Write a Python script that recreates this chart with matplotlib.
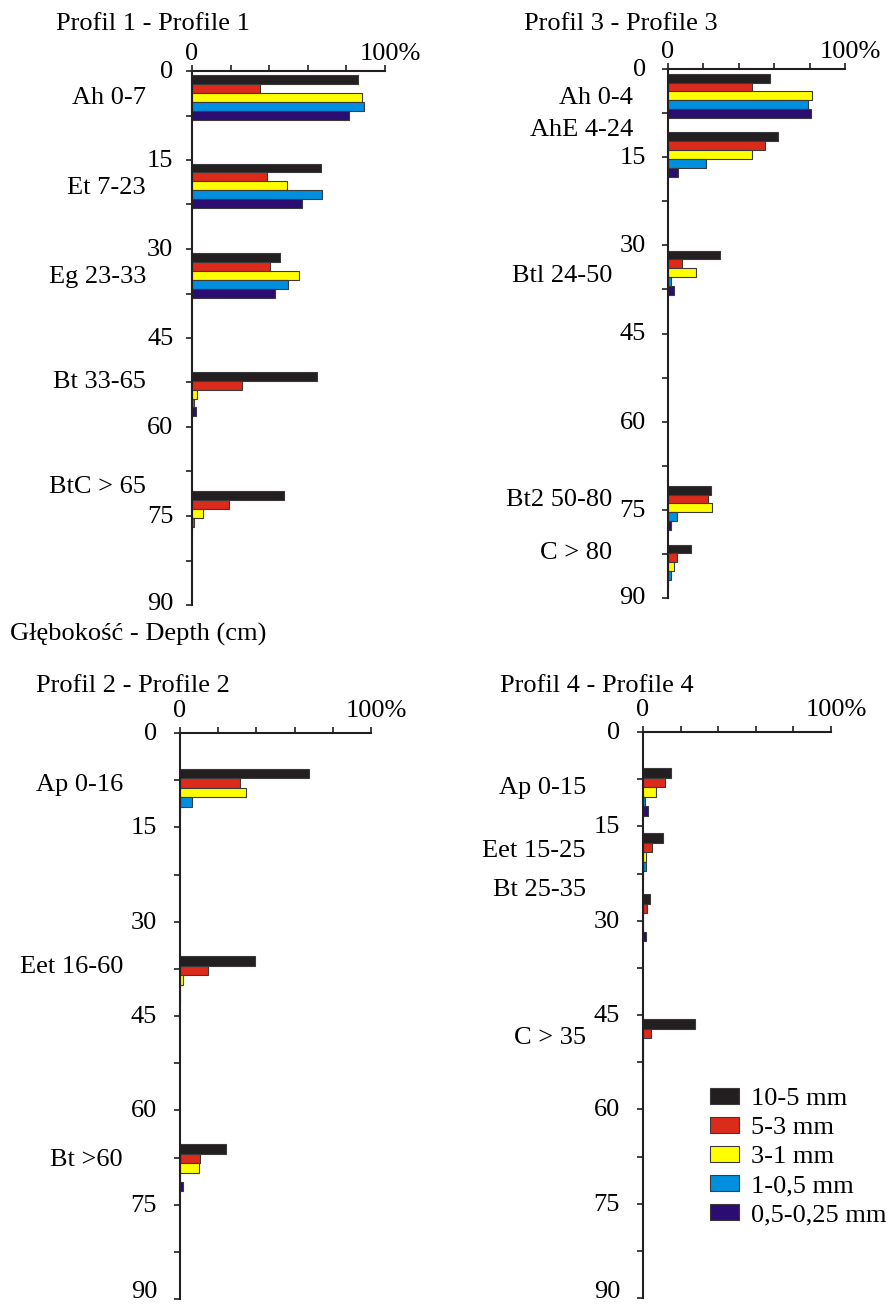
import matplotlib
matplotlib.use("Agg")
import matplotlib.pyplot as plt
from matplotlib.patches import Patch
from matplotlib.transforms import ScaledTranslation
import numpy as np

plt.rcParams['font.family'] = ['Liberation Serif', 'DejaVu Serif']

# ---------------- data ----------------
size_classes = ['10-5 mm', '5-3 mm', '3-1 mm', '1-0,5 mm', '0,5-0,25 mm']
class_colors = ['#231f20', '#dc2b1a', '#ffff00', '#008fdf', '#2b0c72']

# Profile 1
p1_horizons = ['Ah 0-7', 'Et 7-23', 'Eg 23-33', 'Bt 33-65', 'BtC > 65']
p1_top = [0.7, 15.6, 30.7, 50.7, 70.8]
p1_label_depth = [4.6, 19.8, 34.7, 52.4, 70.1]
p1_10_5 = [86.2, 66.7, 45.6, 64.6, 47.7]
p1_5_3 = [35.0, 38.7, 40.4, 25.7, 19.0]
p1_3_1 = [88.0, 49.0, 55.4, 2.8, 5.5]
p1_1_05 = [89.3, 67.2, 49.7, 1.0, 1.2]
p1_05_025 = [81.3, 56.8, 43.2, 1.9, 0.0]

# Profile 3
p3_horizons = ['Ah 0-4', 'AhE 4-24', 'Btl 24-50', 'Bt2 50-80', 'C > 80']
p3_top = [0.8, 10.8, 30.9, 70.9, 80.9]
p3_label_depth = [4.9, 10.3, 35.3, 73.3, 82.3]
p3_10_5 = [57.9, 61.9, 29.2, 24.2, 13.2]
p3_5_3 = [47.7, 54.7, 8.1, 22.8, 5.1]
p3_3_1 = [81.5, 47.7, 16.0, 25.1, 3.2]
p3_1_05 = [79.2, 21.7, 1.7, 5.1, 1.7]
p3_05_025 = [80.8, 5.8, 3.2, 1.9, 0.0]

# Profile 2
p2_horizons = ['Ap 0-16', 'Eet 16-60', 'Bt >60']
p2_top = [5.7, 35.5, 65.4]
p2_label_depth = [8.2, 37.2, 67.9]
p2_10_5 = [67.7, 39.3, 24.0]
p2_5_3 = [31.3, 14.9, 10.7]
p2_3_1 = [34.3, 1.7, 10.0]
p2_1_05 = [6.1, 0.0, 0.0]
p2_05_025 = [0.0, 0.0, 1.4]

# Profile 4
p4_horizons = ['Ap 0-15', 'Eet 15-25', 'Bt 25-35', 'C > 35']
p4_top = [5.8, 16.1, 25.8, 45.7]
p4_label_depth = [8.9, 19.0, 25.1, 48.7]
p4_10_5 = [14.8, 10.9, 3.9, 27.9]
p4_5_3 = [11.6, 4.6, 2.1, 4.3]
p4_3_1 = [6.8, 1.4, 0.0, 0.0]
p4_1_05 = [1.1, 1.6, 0.0, 0.0]
p4_05_025 = [2.8, 0.0, 1.8, 0.0]

depth_ticks = [0, 15, 30, 45, 60, 75, 90]
bar_h = 1.5

# ---------------- layout ----------------
W, H = 893, 1304
fig = plt.figure(figsize=(W / 100, H / 100), dpi=100)
FS = 19
DARK = '#231f20'


def px_axes(left, right, top, bottom):
    return fig.add_axes([left / W, 1 - bottom / H, (right - left) / W, (bottom - top) / H])


def draw_panel(ax, title, title_xy, horizons, tops, label_depths, series,
               label_offsets, ypad, top_label_gap, last_lift):
    for i, (vals, col) in enumerate(zip(series, class_colors)):
        y = np.array(tops) + i * bar_h
        ax.barh(y, vals, height=bar_h, align='edge', color=col,
                edgecolor='#3a3a3a', linewidth=0.8, zorder=2)
    ax.set_xlim(0, 100)
    ax.set_ylim(90, 0)
    for s in ['right', 'bottom']:
        ax.spines[s].set_visible(False)
    for s in ['left', 'top']:
        ax.spines[s].set_color(DARK)
        ax.spines[s].set_linewidth(1.5)
        ax.spines[s].set_zorder(3)
    ax.xaxis.tick_top()
    ax.set_xticks([0, 20, 40, 60, 80, 100])
    ax.set_xticklabels([])
    ax.tick_params(axis='x', which='both', direction='out', length=4.5,
                   width=1.2, color=DARK)
    ax.set_yticks(depth_ticks)
    ax.set_yticklabels([str(t) for t in depth_ticks], fontsize=FS)
    ax.set_yticks(np.arange(7.5, 90, 15), minor=True)
    ax.tick_params(axis='y', which='both', direction='out', length=4.5,
                   width=1.2, color=DARK, pad=ypad)
    labels = ax.get_yticklabels()
    for k, lab in enumerate(labels):
        lift = 1.5 if k < len(labels) - 1 else last_lift
        lab.set_transform(lab.get_transform() +
                          ScaledTranslation(0, lift / 100, fig.dpi_scale_trans))
    # top labels 0 and 100%
    ax.annotate('0', xy=(0, 1), xycoords='axes fraction',
                xytext=(0, top_label_gap), textcoords='offset pixels',
                ha='center', va='baseline', fontsize=FS)
    ax.annotate('100%', xy=(1, 1), xycoords='axes fraction',
                xytext=(5, top_label_gap), textcoords='offset pixels',
                ha='center', va='baseline', fontsize=FS)
    for name, d, off in zip(horizons, label_depths, label_offsets):
        ax.annotate(name, xy=(0, d), xycoords=ax.get_yaxis_transform(),
                    xytext=(-off, 0), textcoords='offset pixels',
                    ha='right', va='center', fontsize=FS)
    fig.text(title_xy[0] / W, 1 - title_xy[1] / H, title, ha='center',
             va='baseline', fontsize=FS)


ax1 = px_axes(192, 385, 71, 605)
draw_panel(ax1, 'Profil 1 - Profile 1', (153, 30), p1_horizons, p1_top,
           p1_label_depth, [p1_10_5, p1_5_3, p1_3_1, p1_1_05, p1_05_025],
           [46] * 5, 9.0, 11, 3)

ax3 = px_axes(668, 845, 69, 598)
draw_panel(ax3, 'Profil 3 - Profile 3', (621, 30), p3_horizons, p3_top,
           p3_label_depth, [p3_10_5, p3_5_3, p3_3_1, p3_1_05, p3_05_025],
           [35, 35, 56, 56, 56], 11.5, 11, 3)

ax2 = px_axes(180, 371, 733, 1299)
draw_panel(ax2, 'Profil 2 - Profile 2', (133, 692), p2_horizons, p2_top,
           p2_label_depth, [p2_10_5, p2_5_3, p2_3_1, p2_1_05, p2_05_025],
           [57] * 3, 12, 16, 9)

ax4 = px_axes(643, 831, 732, 1298)
draw_panel(ax4, 'Profil 4 - Profile 4', (597, 692), p4_horizons, p4_top,
           p4_label_depth, [p4_10_5, p4_5_3, p4_3_1, p4_1_05, p4_05_025],
           [57] * 4, 12, 16, 9)

fig.text(10 / W, 1 - 641 / H, 'Głębokość - Depth (cm)', ha='left',
         va='baseline', fontsize=FS)

handles = [Patch(facecolor=c, edgecolor='#3a3a3a', linewidth=0.8)
           for c in class_colors]
fig.legend(handles, size_classes, loc='upper left',
           bbox_to_anchor=(710 / W, 1 - 1088 / H), frameon=False,
           fontsize=FS, handlelength=1.1, handleheight=0.53,
           handletextpad=0.45, labelspacing=0.26, borderpad=0,
           borderaxespad=0)

fig.savefig('out.png', dpi=100)
